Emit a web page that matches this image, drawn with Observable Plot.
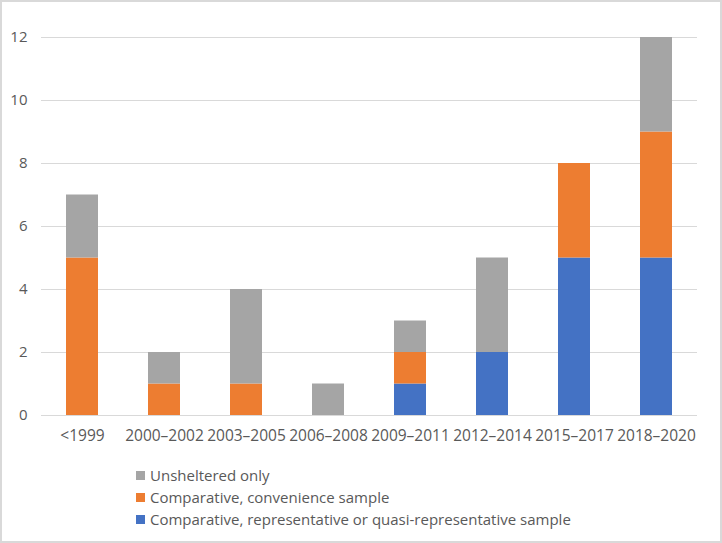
<!DOCTYPE html>
<html>
<head>
<meta charset="utf-8">
<script src="https://cdn.jsdelivr.net/npm/d3@7"></script>
<script src="https://cdn.jsdelivr.net/npm/@observablehq/plot@0.6"></script>
<style>
  html, body { margin: 0; padding: 0; background: #fff; }
  #frame { position: relative; width: 722px; height: 543px; overflow: hidden; font-family: "Open Sans", Lato, sans-serif; color: #595959; }
  #border { position: absolute; left: 0; top: 0; width: 722px; height: 543px; box-sizing: border-box; border: 2px solid #d9d9d9; pointer-events: none; }
  #chart { position: absolute; left: 0; top: 0; }
  #legend { position: absolute; left: 136px; top: 464px; font-size: 15px; line-height: 22px; }
  .item { display: flex; align-items: center; white-space: nowrap; }
  .sw { width: 9px; height: 9px; margin-right: 5px; }
</style>
</head>
<body>
<div id="frame">
  <div id="chart"></div>
  <div id="legend"></div>
  <div id="border"></div>
</div>
<script>
const categories = ["<1999", "2000–2002", "2003–2005", "2006–2008", "2009–2011", "2012–2014", "2015–2017", "2018–2020"];
const seriesNames = [
  "Comparative, representative or quasi-representative sample",
  "Comparative, convenience sample",
  "Unsheltered only"
];
const representative = [0, 0, 0, 0, 1, 2, 5, 5];
const convenience    = [5, 1, 1, 0, 1, 0, 3, 4];
const unsheltered    = [2, 1, 3, 1, 1, 3, 0, 3];
const seriesColors = ["#4472C4", "#ED7D31", "#A5A5A5"];
const yTicks = [0, 2, 4, 6, 8, 10, 12];

const seriesValues = [representative, convenience, unsheltered];
const rows = [];
seriesNames.forEach((s, si) => {
  categories.forEach((c, ci) => {
    rows.push({category: c, series: s, value: seriesValues[si][ci]});
  });
});

const plot = Plot.plot({
  width: 722,
  height: 455,
  marginLeft: 41,
  marginRight: 25,
  marginTop: 37,
  marginBottom: 40,
  style: {fontFamily: "'Open Sans', Lato, sans-serif", fontSize: "15px", color: "#595959", background: "transparent"},
  x: {domain: categories, paddingInner: 0.61, paddingOuter: 0.305, label: null},
  y: {domain: [0, 12], label: null},
  color: {domain: seriesNames, range: seriesColors},
  marks: [
    Plot.gridY(yTicks, {stroke: "#d9d9d9", strokeOpacity: 1, strokeWidth: 1}),
    Plot.barY(rows, {x: "category", y: "value", fill: "series", order: seriesNames}),
    Plot.axisY({ticks: yTicks, tickSize: 0, tickPadding: 14, label: null, fill: "#595959"}),
    Plot.axisX({tickSize: 0, tickPadding: 14, label: null, fill: "#595959", fontSize: 15.5})
  ]
});
document.getElementById("chart").appendChild(plot);

const legend = document.getElementById("legend");
[2, 1, 0].forEach(i => {
  const item = document.createElement("div");
  item.className = "item";
  const sw = document.createElement("span");
  sw.className = "sw";
  sw.style.background = seriesColors[i];
  const t = document.createElement("span");
  t.textContent = seriesNames[i];
  item.appendChild(sw);
  item.appendChild(t);
  legend.appendChild(item);
});
</script>
</body>
</html>
